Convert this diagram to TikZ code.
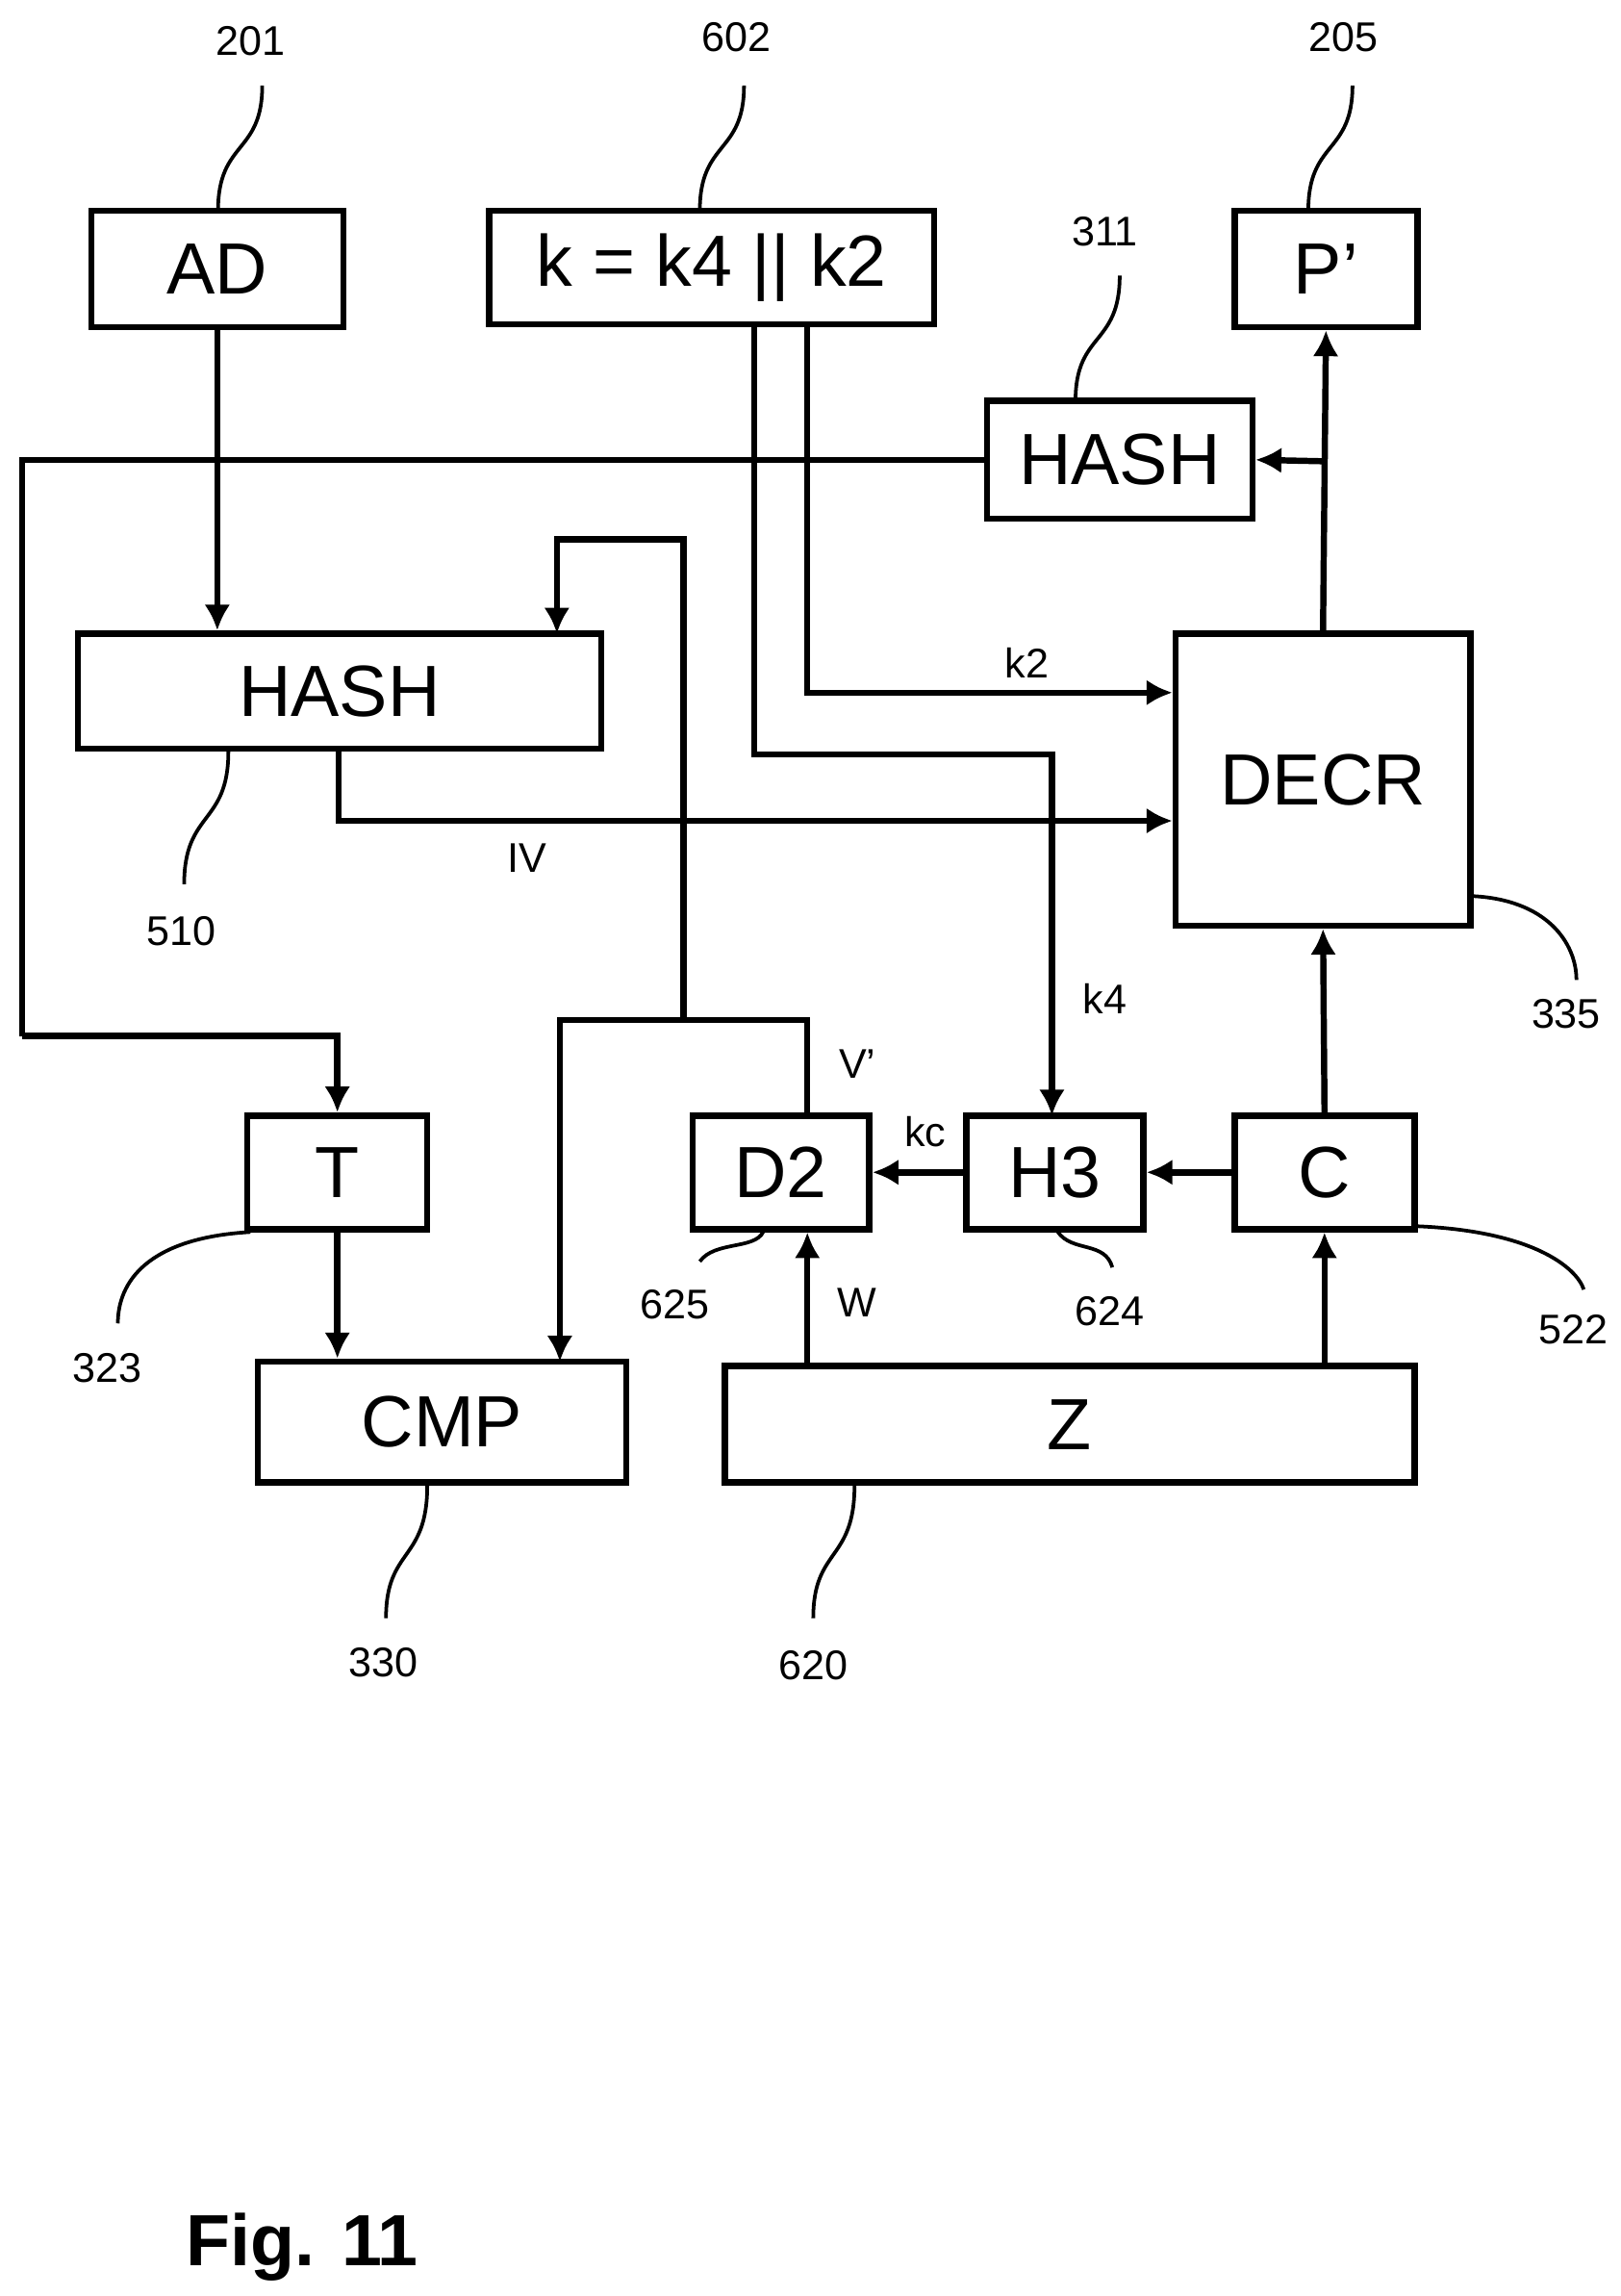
\documentclass[tikz,border=0pt]{standalone}
\usepackage{fontspec}
\setmainfont{Liberation Sans}
\usetikzlibrary{arrows.meta,positioning}
\tikzset{
  box/.style={draw, line width=1.2pt, inner sep=0pt, font=\fontsize{14}{16}\selectfont},
  wire/.style={line width=1.2pt},
  arr/.style={wire, -{Latex[length=5pt,width=5pt]}},
  lead/.style={line width=0.7pt},
  refnum/.style={font=\fontsize{8}{10}\selectfont},
  sig/.style={font=\fontsize{8}{10}\selectfont}
}
\begin{document}
\begin{tikzpicture}[x=0.01cm, y=-0.01cm]
    \useasboundingbox (0,0) rectangle (1100,1558);

    % boxes
    \node [box, minimum width=1.71cm, minimum height=0.79cm] (AD) at (147.5,182.5) {AD};
    \node [box, minimum width=3.02cm, minimum height=0.77cm] (key) at (483,181.5) {k = k4 || k2};
    \node [box, minimum width=1.24cm, minimum height=0.79cm] (Pout) at (900,182.5) {P’};
    \node [box, minimum width=1.80cm, minimum height=0.80cm] (hashB) at (760,312) {HASH};
    \node [box, minimum width=3.55cm, minimum height=0.78cm] (hashA) at (230.5,469) {HASH};
    \node [box, minimum width=2.00cm, minimum height=1.98cm] (decr) at (898,529) {DECR};
    \node [box, minimum width=1.22cm, minimum height=0.77cm] (T) at (229,795.5) {T};
    \node [box, minimum width=1.20cm, minimum height=0.77cm] (dtwo) at (530,795.5) {D2};
    \node [box, minimum width=1.20cm, minimum height=0.77cm] (hthree) at (716,795.5) {H3};
    \node [box, minimum width=1.22cm, minimum height=0.77cm] (C) at (899,795.5) {C};
    \node [box, minimum width=2.50cm, minimum height=0.82cm] (cmp) at (300,965) {CMP};
    \node [box, minimum width=4.68cm, minimum height=0.79cm] (Z) at (726,966.5) {Z};

    % helper points
    \coordinate (kl) at (512,220);
    \coordinate (kr) at (548,220);
    \coordinate (hB) at (898,313);
    \coordinate (vj) at (464,692);

    % connectors
    \draw [arr] (AD.south) -- (AD.south |- hashA.north);
    \draw [arr] (kr) |- (decr.west |- 0,470);
    \draw [arr] (kl) |- (714,512) -- (714,757);
    \draw [arr] (230,508) |- (decr.west |- 0,557);
    \draw [arr] (decr.north) -- (Pout.south);
    \draw [arr] (hB) -- (hashB.east);
    \draw [wire] (hashB.west) -| (15,703) coordinate (tl);
    \draw [arr] (tl) -| (T.north);
    \draw [arr] (C.north) -- (decr.south);
    \draw [arr] (Z.north -| C.south) -- (C.south);
    \draw [arr] (Z.north -| 548,0) -- (dtwo.south -| 548,0);
    \draw [arr] (hthree.west) -- (dtwo.east);
    \draw [arr] (C.west) -- (hthree.east);
    \draw [arr] (T.south) -- (T.south |- cmp.north);
    \draw [wire] (dtwo.north -| 548,0) |- (vj);
    \draw [arr] (vj) -| (380,924);
    \draw [arr] (vj) |- (378,366) -- (378,430);

    % signal labels
    \node [sig] (lk2) at (697,450) {k2};
    \node [sig] (lk4) at (750,678) {k4};
    \node [sig] (liv) at (358,582) {IV};
    \node [sig] (lv) at (582,722) {V’};
    \node [sig] (lkc) at (628,768) {kc};
    \node [sig] (lw) at (582,884) {W};

    % reference numerals
    \node [refnum] (n201) at (170,28) {201};
    \node [refnum] (n602) at (500,25) {602};
    \node [refnum] (n205) at (912,25) {205};
    \node [refnum] (n311) at (750,157) {311};
    \node [refnum] (n510) at (123,632) {510};
    \node [refnum] (n335) at (1063,688) {335};
    \node [refnum] (n323) at (73,928) {323};
    \node [refnum] (n625) at (458,885) {625};
    \node [refnum] (n624) at (753,890) {624};
    \node [refnum] (n522) at (1068,902) {522};
    \node [refnum] (n330) at (260,1128) {330};
    \node [refnum] (n620) at (552,1130) {620};

    \draw [lead] (148,143) .. controls (148,95) and (178,105) .. (178,58);
    \draw [lead] (475,143) .. controls (475,95) and (505,105) .. (505,58);
    \draw [lead] (888,143) .. controls (888,95) and (918,105) .. (918,58);
    \draw [lead] (730,272) .. controls (730,225) and (760,235) .. (760,187);
    \draw [lead] (155,510) .. controls (155,560) and (125,550) .. (125,600);
    \draw [lead] (998,608) .. controls (1050,610) and (1070,640) .. (1070,665);
    \draw [lead] (170,836) .. controls (100,840) and (80,870) .. (80,898);
    \draw [lead] (518,836) .. controls (512,848) and (485,842) .. (475,856);
    \draw [lead] (718,836) .. controls (728,850) and (750,842) .. (755,860);
    \draw [lead] (960,832) .. controls (1040,835) and (1070,860) .. (1075,875);
    \draw [lead] (290,1008) .. controls (290,1060) and (262,1050) .. (262,1098);
    \draw [lead] (580,1008) .. controls (580,1060) and (552,1050) .. (552,1098);

    \node [font=\bfseries\fontsize{14}{16}\selectfont] (fig) at (205,1525) {Fig. 11};
\end{tikzpicture}
\end{document}
